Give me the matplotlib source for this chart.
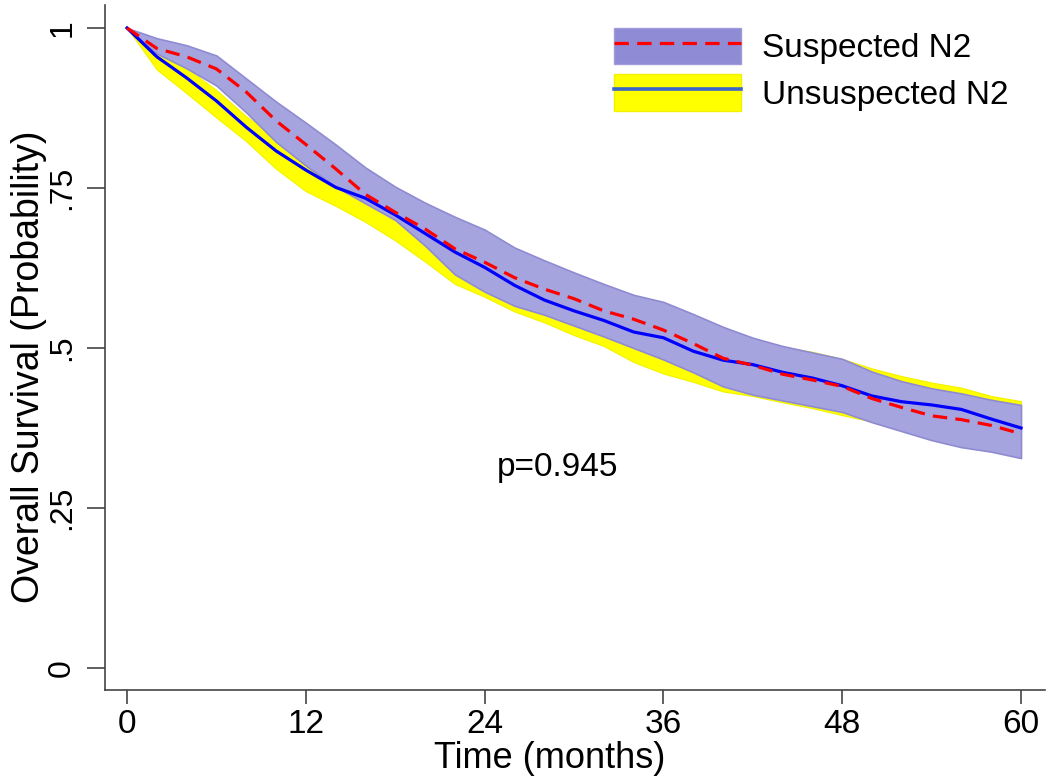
import matplotlib
matplotlib.use("Agg")
import matplotlib.pyplot as plt
from matplotlib.patches import Patch
from matplotlib.lines import Line2D

plt.rcParams['font.family'] = ['Liberation Sans', 'DejaVu Sans']

months = [0, 2, 4, 6, 8, 10, 12, 14, 16, 18, 20, 22, 24, 26, 28, 30,
          32, 34, 36, 38, 40, 42, 44, 46, 48, 50, 52, 54, 56, 58, 60]

susp = [1.000, 0.968, 0.955, 0.936, 0.900, 0.855, 0.818, 0.780, 0.740, 0.712,
        0.686, 0.655, 0.634, 0.610, 0.592, 0.577, 0.558, 0.545, 0.528, 0.507,
        0.484, 0.473, 0.459, 0.450, 0.440, 0.421, 0.407, 0.394, 0.388, 0.379, 0.366]
susp_hi = [1.000, 0.984, 0.973, 0.957, 0.921, 0.885, 0.852, 0.818, 0.782, 0.752,
           0.727, 0.705, 0.685, 0.657, 0.637, 0.618, 0.600, 0.583, 0.572, 0.553,
           0.533, 0.516, 0.503, 0.493, 0.483, 0.463, 0.448, 0.437, 0.429, 0.419, 0.411]
susp_lo = [1.000, 0.960, 0.937, 0.910, 0.868, 0.822, 0.785, 0.752, 0.726, 0.700,
           0.660, 0.615, 0.588, 0.566, 0.552, 0.535, 0.518, 0.500, 0.482, 0.462,
           0.440, 0.427, 0.418, 0.409, 0.400, 0.384, 0.370, 0.356, 0.345, 0.338, 0.328]

unsusp = [1.000, 0.955, 0.922, 0.886, 0.845, 0.808, 0.778, 0.751, 0.734, 0.708,
          0.679, 0.650, 0.626, 0.598, 0.575, 0.558, 0.543, 0.525, 0.516, 0.495,
          0.481, 0.474, 0.462, 0.453, 0.441, 0.425, 0.416, 0.411, 0.404, 0.389, 0.375]
unsusp_hi = [1.000, 0.972, 0.937, 0.903, 0.862, 0.830, 0.803, 0.780, 0.765, 0.741,
             0.712, 0.684, 0.660, 0.633, 0.610, 0.595, 0.580, 0.563, 0.555, 0.535,
             0.521, 0.515, 0.502, 0.494, 0.483, 0.468, 0.456, 0.446, 0.438, 0.425, 0.417]
unsusp_lo = [1.000, 0.935, 0.898, 0.860, 0.823, 0.780, 0.745, 0.722, 0.697, 0.668,
             0.635, 0.600, 0.580, 0.557, 0.540, 0.520, 0.503, 0.478, 0.460, 0.447,
             0.432, 0.425, 0.415, 0.406, 0.395, 0.385, 0.373, 0.366, 0.357, 0.345, 0.335]

x_ticks = [0, 12, 24, 36, 48, 60]
y_ticks = [0, 0.25, 0.5, 0.75, 1.0]
y_tick_labels = ['0', '.25', '.5', '.75', '1']
labels = ['Suspected N2', 'Unsuspected N2']
p_text = 'p=0.945'

W, H = 1060, 783
fig = plt.figure(figsize=(W / 100, H / 100), dpi=100)
ax = fig.add_axes([105 / W, 93 / H, 940 / W, 685 / H])

purple_face = '#a6a4de'
purple_edge = '#8f8bd2'
yellow = '#ffff00'

ax.fill_between(months, unsusp_lo, unsusp_hi, facecolor=yellow,
                edgecolor='#f2f200', linewidth=0.8, zorder=1)
ax.fill_between(months, susp_lo, susp_hi, facecolor=purple_face,
                edgecolor=purple_edge, linewidth=1.2, zorder=2)
ax.plot(months, unsusp, color='#0000ff', linewidth=2.3, zorder=3)
ax.plot(months, susp, color='#ff0000', linewidth=2.3, dashes=(4.5, 2.6), zorder=4)

ax.set_xlim(-1.48, 61.61)
ax.set_ylim(-0.0344, 1.0359)

for side in ['top', 'right']:
    ax.spines[side].set_visible(False)
for side in ['left', 'bottom']:
    ax.spines[side].set_color('#444444')
    ax.spines[side].set_linewidth(1.2)

ax.set_xticks(x_ticks)
ax.set_xticklabels([str(v) for v in x_ticks], fontsize=24)
ax.set_yticks(y_ticks)
ax.set_yticklabels(y_tick_labels, rotation=90, va='center', fontsize=23)
ax.tick_params(axis='x', direction='out', length=10, width=1.2, color='#444444', pad=4)
ax.tick_params(axis='y', direction='out', length=13, width=1.2, color='#444444', pad=7)

fig.text(550 / W, 1 - 758 / H, 'Time (months)', ha='center', va='center', fontsize=26)
fig.text(29 / W, 1 - 367 / H, 'Overall Survival (Probability)', rotation=90,
         ha='center', va='center', fontsize=27)

ax.text(28.9, 0.3125, p_text, ha='center', va='center', fontsize=24)

h1 = (Patch(facecolor='#8f8bd4', edgecolor='#a09cdc', linewidth=1),
      Line2D([], [], color='#ff0000', linewidth=2.3, dashes=(4.5, 2.6)))
h2 = (Patch(facecolor=yellow, edgecolor='#f0f000', linewidth=1),
      Line2D([], [], color='#3a66c8', linewidth=2.6))
leg = ax.legend([h1, h2], labels, loc='upper left',
                bbox_to_anchor=(614 / W, 1 - 28 / H), bbox_transform=fig.transFigure,
                frameon=False, fontsize=24, handlelength=3.8, handleheight=1.3,
                labelspacing=0.3, handletextpad=0.65, borderpad=0, borderaxespad=0)

fig.savefig('out.png', dpi=100)
